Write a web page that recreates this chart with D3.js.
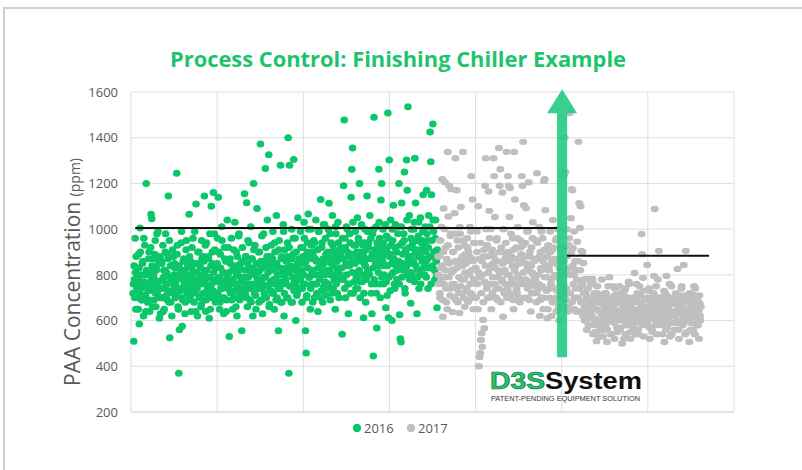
<!DOCTYPE html>
<html><head><meta charset="utf-8">
<script src="https://cdn.jsdelivr.net/npm/d3@7"></script>
<style>body{margin:0;background:#fff;} svg{display:block;}</style>
</head><body>
<script>
const chartTitle = "Process Control: Finishing Chiller Example";
const seriesNames = ["2016", "2017"];
const yTicks = [200, 400, 600, 800, 1000, 1200, 1400, 1600];
const yTitleMain = "PAA  Concentration ";
const yTitleUnit = "(ppm)";
// sample-axis span covered by each year's readings
const span2016 = [3, 442];
const span2017 = [443, 822];
// PAA concentration (ppm), in sample order
const values2016 = [
 720,760,510,840,780,700,960,810,650,880,830,740,700,790,760,650,890,830,585,720,1005,900,740,770,800,690,690,850,860,750,620,960,770,710,930,800,710,640,1200,820,
 800,810,680,730,750,870,900,760,640,690,820,920,1065,780,1045,840,730,660,870,800,690,750,780,890,950,720,660,820,840,980,720,770,990,700,770,860,610,740,880,630,
 740,700,860,850,700,780,930,640,790,820,650,740,820,900,980,760,710,810,760,690,890,870,1145,730,680,950,525,790,840,680,770,840,620,770,910,720,730,880,800,750,
 850,830,700,760,780,710,1245,890,930,790,660,650,370,840,560,730,820,800,740,940,990,700,575,780,690,860,870,740,760,820,630,680,800,910,950,770,720,720,840,850,
 780,740,1065,880,700,800,860,690,640,830,920,760,750,960,810,720,680,850,990,780,730,640,1110,810,850,740,620,900,770,770,900,700,710,840,830,790,660,670,950,870,
 760,800,880,720,690,860,1145,770,820,930,640,690,940,820,730,750,790,880,870,710,610,790,980,650,750,840,1100,760,700,900,850,730,1160,810,770,980,910,700,680,780,
 830,770,720,850,960,720,1140,900,780,790,650,680,890,830,740,760,1010,950,700,740,810,810,630,700,920,870,760,780,860,640,690,860,1040,750,790,920,740,810,530,730,
 870,850,720,760,960,690,780,820,650,780,830,910,700,730,1030,840,760,660,900,800,620,880,810,750,740,970,980,720,690,830,850,790,770,700,555,860,920,770,710,740,
 790,720,1155,820,720,880,880,760,1115,700,660,850,950,790,760,940,830,740,690,810,1010,680,740,870,870,760,620,830,1200,910,800,720,930,800,710,650,850,850,1090,780,
 760,810,900,740,680,900,820,780,1372,860,740,690,970,830,630,760,860,980,790,720,700,840,1265,790,920,700,750,880,1040,750,810,820,1325,660,670,860,880,770,730,930,
 840,760,720,870,990,720,780,820,650,940,900,780,760,690,1060,850,700,800,830,740,555,910,950,770,740,830,1280,680,870,880,680,760,800,820,1020,990,620,720,910,800,
 780,830,860,760,700,880,940,700,1400,810,370,920,1280,750,820,840,750,680,1000,870,680,790,890,960,1305,730,770,820,960,760,600,900,840,710,720,850,1050,780,800,740,
 870,850,740,780,990,920,800,820,680,740,920,880,760,800,1030,960,850,760,555,860,458,700,710,900,940,830,1066,1000,790,790,880,870,650,740,1000,930,760,810,900,680,
 820,880,950,800,700,940,870,760,1040,860,760,720,910,910,640,830,990,990,800,780,860,850,1130,700,730,920,940,820,680,870,1020,750,850,1020,770,800,960,890,710,740,
 880,820,760,900,1000,760,1113,870,820,980,690,800,940,850,870,720,1060,930,740,840,910,780,800,890,650,1010,980,760,860,860,720,820,1030,940,790,700,900,880,830,800,
 920,900,780,830,540,960,870,780,1190,870,1477,740,960,920,700,850,1010,800,840,1000,900,760,630,880,760,840,980,940,850,720,1140,890,1262,810,1355,1030,720,860,930,770,
 860,850,990,930,740,790,900,880,1050,740,810,960,950,820,1200,900,700,770,880,860,1020,1010,770,800,930,890,612,720,850,940,1000,840,680,780,910,870,1145,990,820,820,
 940,920,800,800,1060,870,870,960,720,760,630,890,980,830,445,1000,1490,780,890,910,760,850,1010,720,568,940,920,870,840,810,1262,1030,960,760,700,900,1127,840,1200,790,
 880,860,1000,940,760,800,920,890,840,1020,656,770,970,910,710,840,1508,960,612,790,1302,880,890,730,1040,930,800,850,600,1000,950,810,1105,870,860,760,740,920,1020,840,
 900,900,780,820,1010,980,860,860,1200,760,625,930,520,840,506,1010,1114,790,940,890,820,850,980,950,1250,740,720,910,900,830,1302,1040,1170,800,1535,870,850,920,1060,780,
 880,880,676,960,1000,810,790,920,940,850,860,1000,1030,770,1310,900,1114,840,910,950,630,790,820,880,970,1030,740,820,890,910,1050,760,800,940,950,860,870,990,1150,830,
 920,940,800,850,1010,900,860,790,1170,980,950,870,740,920,1060,830,880,1010,1425,880,1295,760,1150,950,830,840,1460,1040,990,900,900,820,780,960,1040,870,860,800,656,910
];
const values2017 = [
 880,800,760,880,950,720,700,950,830,780,1010,840,1218,690,617,900,1090,760,790,1000,1205,820,920,740,680,870,860,650,1338,930,1055,790,1190,850,740,710,970,980,1175,810,
 820,760,637,900,900,820,760,700,1070,860,1310,980,690,740,1170,830,950,680,850,920,720,790,633,1010,980,750,1097,870,780,720,880,840,1338,950,700,780,930,660,810,890,
 860,850,740,730,960,920,680,800,900,690,800,880,1010,760,720,990,1232,820,870,710,1130,860,650,780,940,940,780,700,830,830,700,760,990,900,760,650,1100,810,400,870,
 441,790,458,940,515,720,545,860,485,800,603,680,880,910,567,770,1190,840,1310,1000,760,740,930,880,700,810,1165,700,1080,960,840,830,1000,760,650,890,910,720,790,850,
 1310,880,1232,760,1053,830,860,700,740,950,960,790,690,860,820,740,1355,900,1190,810,1262,680,900,920,780,770,1160,850,617,1000,1000,730,720,820,870,760,940,880,1338,700,
 800,740,1232,900,1190,800,1053,860,1180,720,700,980,880,780,760,840,960,690,650,910,1338,820,1130,760,840,870,920,740,720,960,1010,800,790,700,860,850,680,780,950,920,
 890,860,1232,760,1190,930,1382,810,1105,700,770,880,940,780,1092,850,700,990,830,740,990,820,1205,690,760,900,880,770,640,840,920,720,810,960,1030,800,720,870,860,750,
 780,780,950,870,680,720,1245,940,870,800,740,760,1010,880,620,690,900,830,820,990,700,750,960,860,650,700,1210,910,1218,790,1083,840,790,730,880,880,610,650,930,820,
 840,820,700,740,990,900,760,780,620,860,910,680,1040,920,680,790,870,740,800,850,950,700,640,960,730,800,1000,870,860,660,600,830,780,760,920,910,700,720,1232,800,
 880,760,760,860,1237,700,1400,920,1250,800,690,740,1000,880,820,660,640,830,930,960,1508,720,720,800,1048,900,1175,680,1170,840,917,760,800,990,650,700,860,820,740,640,
 820,780,945,700,700,860,1382,640,1114,740,1005,820,1100,680,905,760,760,900,640,620,852,720,780,660,600,780,720,600,690,700,560,640,740,740,660,580,782,680,610,620,
 700,640,760,700,620,580,782,660,540,760,680,610,720,690,600,550,650,650,510,720,750,600,690,680,580,530,640,640,712,700,560,590,676,780,620,620,530,670,700,560,
 640,660,720,600,580,720,690,630,506,560,650,690,750,640,610,790,676,610,540,670,700,540,630,700,595,620,750,650,660,590,520,740,712,630,600,680,640,570,550,710,
 690,610,620,680,750,640,560,570,676,720,640,650,500,600,712,690,600,520,730,660,650,740,540,620,680,580,620,700,700,640,580,770,760,600,630,670,520,550,660,630,
 620,680,700,620,580,560,650,700,808,640,540,590,690,760,610,630,720,680,560,540,640,650,750,710,600,600,680,670,979,620,890,580,787,730,530,640,660,690,620,600,
 640,630,700,690,843,600,580,650,660,740,730,570,520,680,690,620,610,700,560,550,676,640,630,720,795,610,1088,660,600,580,750,690,540,640,700,780,620,600,905,670,
 650,700,590,610,700,660,620,580,540,690,680,640,610,730,506,600,720,650,640,560,795,710,570,630,660,680,600,590,700,760,530,620,640,670,750,540,590,640,676,700,
 620,620,680,680,560,590,700,720,640,640,590,600,826,670,650,560,520,700,710,630,600,660,660,740,750,580,580,690,640,620,843,650,700,710,540,600,905,680,620,550,
 650,680,600,600,700,650,506,720,640,590,560,660,680,630,620,700,590,560,712,670,750,620,540,740,660,600,610,650,700,690,580,580,640,640,520,710,676,620,600,660
];
// average levels before / after the change (ppm) and the sample spans they cover
const avgLevels = [1005, 884];
const avgSpans = [[6, 615], [629, 834]];
// annotation arrow: sample position and ppm range
const arrowAt = 622;
const arrowRange = [440, 1612];
const logoParts = ["D3S", "System"];
const logoTagline = "PATENT-PENDING EQUIPMENT SOLUTION";

const W = 802, H = 470;
const colors = {"2016": "#0cc66a", "2017": "#bfbfbf"};
const svg = d3.select("body").append("svg").attr("width", W).attr("height", H);
svg.append("rect").attr("width", W).attr("height", H).attr("fill", "#fff");
svg.append("rect").attr("x", 4).attr("y", 8).attr("width", 830).attr("height", 500)
  .attr("fill", "none").attr("stroke", "#cfcfcf").attr("stroke-width", 2);

const x = d3.scaleLinear().domain([0, 870]).range([131, 734]);
const y = d3.scaleLinear().domain([200, 1600]).range([412, 92]);

// grid
const grid = svg.append("g");
grid.selectAll("line.h").data(yTicks).join("line")
  .attr("x1", x(0)).attr("x2", x(870)).attr("y1", d => y(d)).attr("y2", d => y(d))
  .attr("stroke", d => d === 200 ? "#c8c8c8" : "#dedede").attr("stroke-width", 1);
grid.selectAll("line.v").data(d3.range(8).map(i => i * 870 / 7)).join("line")
  .attr("x1", d => x(d)).attr("x2", d => x(d)).attr("y1", y(1600)).attr("y2", y(200))
  .attr("stroke", "#dedede").attr("stroke-width", 1);

// y axis labels
const yAxis = svg.append("g").attr("transform", `translate(${x(0)},0)`)
  .call(d3.axisLeft(y).tickValues(yTicks).tickFormat(d3.format("d")).tickSize(0).tickPadding(13));
yAxis.select(".domain").remove();
yAxis.selectAll("text").attr("font-family", "Open Sans").attr("font-size", 13).attr("fill", "#595959");

// y title
const yt = svg.append("text").attr("transform", `translate(80,272) rotate(-90)`)
  .attr("text-anchor", "middle").attr("fill", "#595959").attr("font-family", "Open Sans");
yt.append("tspan").attr("font-size", 21).text(yTitleMain);
yt.append("tspan").attr("font-size", 14).text(yTitleUnit);

// points
function place(vals, span) {
  const n = vals.length;
  return vals.map((v, i) => ({x: span[0] + i * (span[1] - span[0]) / (n - 1), v}));
}
const pts2016 = place(values2016, span2016);
const pts2017 = place(values2017, span2017);
svg.append("g").selectAll("ellipse").data(pts2016).join("ellipse")
  .attr("cx", d => x(d.x)).attr("cy", d => y(d.v)).attr("rx", 3.8).attr("ry", 3.5)
  .attr("fill", colors["2016"]);
svg.append("g").selectAll("ellipse").data(pts2017).join("ellipse")
  .attr("cx", d => x(d.x)).attr("cy", d => y(d.v)).attr("rx", 4.0).attr("ry", 3.2)
  .attr("fill", colors["2017"]);

// average lines
svg.append("g").selectAll("line").data(avgLevels).join("line")
  .attr("x1", (d, i) => x(avgSpans[i][0])).attr("x2", (d, i) => x(avgSpans[i][1]))
  .attr("y1", d => y(d)).attr("y2", d => y(d))
  .attr("stroke", "#111").attr("stroke-width", 2);

// arrow
const ax = x(arrowAt), ay0 = y(arrowRange[0]), ay1 = y(arrowRange[1]);
const headH = 24, headW = 15, shaftW = 5;
svg.append("path")
  .attr("d", `M${ax - shaftW},${ay0} L${ax - shaftW},${ay1 + headH} L${ax - headW},${ay1 + headH} L${ax},${ay1} L${ax + headW},${ay1 + headH} L${ax + shaftW},${ay1 + headH} L${ax + shaftW},${ay0} Z`)
  .attr("fill", "#25ca80").attr("fill-opacity", 0.9);

// logo
const lg = svg.append("g");
lg.append("text").attr("x", 490).attr("y", 389).attr("font-family", "Liberation Sans")
  .attr("font-weight", 700).attr("font-size", 23).attr("fill", "#25c36d")
  .attr("stroke", "#127a45").attr("stroke-width", 0.7)
  .attr("textLength", 55).attr("lengthAdjust", "spacingAndGlyphs").text(logoParts[0]);
lg.append("text").attr("x", 545).attr("y", 389).attr("font-family", "Liberation Sans")
  .attr("font-weight", 700).attr("font-size", 23).attr("fill", "#111")
  .attr("textLength", 97).attr("lengthAdjust", "spacingAndGlyphs").text(logoParts[1]);
lg.append("text").attr("x", 491).attr("y", 401).attr("font-family", "Liberation Sans")
  .attr("font-size", 7).attr("fill", "#333")
  .attr("textLength", 149).attr("lengthAdjust", "spacingAndGlyphs").text(logoTagline);

// title
svg.append("text").attr("x", 398).attr("y", 67).attr("text-anchor", "middle")
  .attr("font-family", "Open Sans").attr("font-weight", 700).attr("font-size", 21)
  .attr("fill", "#1ec46c").attr("textLength", 456).attr("lengthAdjust", "spacingAndGlyphs")
  .text(chartTitle);

// legend
const leg = svg.append("g");
const legX = [357, 411];
seriesNames.forEach((s, i) => {
  leg.append("circle").attr("cx", legX[i]).attr("cy", 428).attr("r", 4.2).attr("fill", colors[s]);
  leg.append("text").attr("x", legX[i] + 7).attr("y", 432.5).attr("font-family", "Open Sans")
    .attr("font-size", 13).attr("fill", "#595959").text(s);
});
</script>
</body></html>
